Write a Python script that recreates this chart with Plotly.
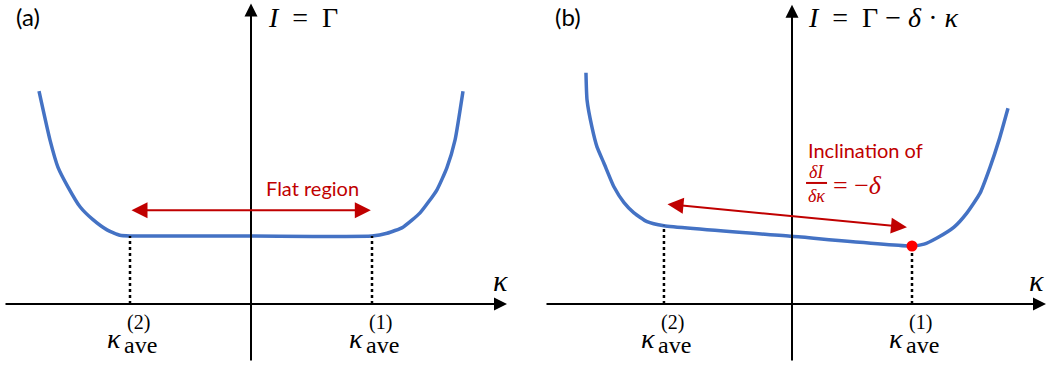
import plotly.graph_objects as go

# panel (a): I = Gamma, flat bottom between kappa_ave^(2) and kappa_ave^(1)
a_kappa = [-1.752, -1.661, -1.595, -1.512, -1.413, -1.306, -1.190, -1.083, -1.0, 0.0,
           1.0, 1.124, 1.256, 1.397, 1.537, 1.620, 1.686, 1.752]
a_I = [3.13, 2.41, 2.01, 1.72, 1.43, 1.24, 1.09, 1.01, 1.0, 1.0,
       1.0, 1.04, 1.13, 1.34, 1.68, 2.01, 2.41, 3.13]
a_kave = [-1.0, 1.0]           # kappa_ave^(2), kappa_ave^(1)
a_Ikave = [1.0, 1.0]

# panel (b): I = Gamma - delta*kappa, tilted bottom
b_kappa = [-1.717, -1.708, -1.667, -1.625, -1.567, -1.483, -1.400, -1.317, -1.208, -1.067, 0.0,
           1.0, 1.100, 1.208, 1.350, 1.458, 1.567, 1.650, 1.725, 1.800]
b_I = [3.40, 3.00, 2.60, 2.31, 2.07, 1.72, 1.49, 1.34, 1.21, 1.15, 0.995,
       0.853, 0.88, 0.97, 1.13, 1.34, 1.63, 2.01, 2.41, 2.88]
b_kave = [-1.067, 1.0]
b_Ikave = [1.15, 0.853]

# red double arrows (tail, head)
a_arrow_k = [-1.0, 0.99]
a_arrow_I = [1.38, 1.38]
b_arrow_k = [-1.05, 0.958]
b_arrow_I = [1.47, 1.13]

sup_labels = ["(2)", "(1)"]

BLUE = "#4472C4"
RED = "#C00000"
SERIF = "Liberation Serif"
SANS = "Lato"

W, H = 1047, 369
split = 520
yrange = [(304 - H) / 68, 304 / 68]

fig = go.Figure()

fig.add_trace(go.Scatter(x=a_kappa, y=a_I, mode="lines", line=dict(color=BLUE, width=3.5, shape="spline", smoothing=0.5),
                         xaxis="x", yaxis="y", showlegend=False))
fig.add_trace(go.Scatter(x=b_kappa, y=b_I, mode="lines", line=dict(color=BLUE, width=3.5, shape="spline", smoothing=0.5),
                         xaxis="x2", yaxis="y2", showlegend=False))

# dotted drop lines
for k, i in zip(a_kave, a_Ikave):
    fig.add_trace(go.Scatter(x=[k, k], y=[0, i], mode="lines", line=dict(color="black", width=2.5, dash="dot"),
                             xaxis="x", yaxis="y", showlegend=False))
for k, i in zip(b_kave, b_Ikave):
    fig.add_trace(go.Scatter(x=[k, k], y=[0, i], mode="lines", line=dict(color="black", width=2.5, dash="dot"),
                             xaxis="x2", yaxis="y2", showlegend=False))

fig.add_trace(go.Scatter(x=[b_kave[1]], y=[b_Ikave[1]], mode="markers", marker=dict(color="#FF0000", size=11),
                         xaxis="x2", yaxis="y2", showlegend=False))

ann = []


def arrow(xr, yr, x0, y0, x1, y1, color, width, size, both=False):
    ann.append(dict(xref=xr, yref=yr, axref=xr, ayref=yr, x=x1, y=y1, ax=x0, ay=y0, text="",
                    showarrow=True, arrowhead=2, arrowsize=size, arrowwidth=width, arrowcolor=color,
                    arrowside="end+start" if both else "end", standoff=0, startstandoff=0))


def txt(xr, yr, x, y, s, size, font=SANS, color="black", xanchor="left", xshift=0, yshift=0):
    ann.append(dict(xref=xr, yref=yr, x=x, y=y, text=s, showarrow=False, xanchor=xanchor, yanchor="middle",
                    xshift=xshift, yshift=yshift, font=dict(family=font, size=size, color=color)))


# axes arrows
arrow("x", "y", (4 - 251) / 121, 0, (507 - 251) / 121, 0, "black", 2, 1.3)
arrow("x", "y", 0, -0.853, 0, 4.42, "black", 2, 1.3)
arrow("x2", "y2", (545 - 792) / 120, 0, (1046 - 792) / 120, 0, "black", 2, 1.3)
arrow("x2", "y2", 0, -0.853, 0, 4.40, "black", 2, 1.3)

# red arrows
arrow("x", "y", a_arrow_k[0], a_arrow_I[0], a_arrow_k[1], a_arrow_I[1], RED, 2, 1.6, both=True)
arrow("x2", "y2", b_arrow_k[0], b_arrow_I[0], b_arrow_k[1], b_arrow_I[1], RED, 2, 1.6, both=True)

# panel labels and axis titles
txt("x", "y", -1.955, 4.25, "(a)", 24, yshift=-1)
txt("x2", "y2", -1.99, 4.25, "(b)", 24, yshift=-1)
txt("x", "y", 0.12, 4.21, "<i>I</i>  =  Γ", 28, font=SERIF)
txt("x2", "y2", 0.115, 4.21, "<i>I</i>  =  Γ − <i>δ</i> · <i>κ</i>", 28, font=SERIF)
txt("x", "y", 2.058, 0.35, "<i>κ</i>", 30, font=SERIF, xanchor="center")
txt("x2", "y2", 2.04, 0.35, "<i>κ</i>", 30, font=SERIF, xanchor="center")

# kappa_ave tick labels
for xr, yr, ks in (("x", "y", a_kave), ("x2", "y2", b_kave)):
    for k, sup in zip(ks, sup_labels):
        txt(xr, yr, k, 0, "<i>κ</i>", 28, font=SERIF, xanchor="right", xshift=-7, yshift=-34)
        txt(xr, yr, k, 0, "ave", 24, font=SERIF, xshift=-8, yshift=-41)
        txt(xr, yr, k, 0, sup, 20, font=SERIF, xshift=-5, yshift=-18)

txt("x", "y", 0.512, 1.706, "Flat region", 20, color=RED, xanchor="center")
txt("x2", "y2", 0.12, 2.26, "Inclination of", 20, color=RED)
txt("x2", "y2", 0.2, 1.94, "<i>δI</i>", 18, font=SERIF, color=RED, xanchor="center")
txt("x2", "y2", 0.2, 1.59, "<i>δκ</i>", 18, font=SERIF, color=RED, xanchor="center")
txt("x2", "y2", 0.325, 1.75, "= −<i>δ</i>", 26, font=SERIF, color=RED)

shapes = [dict(type="line", xref="x2", yref="y2", x0=0.117, x1=0.292, y0=1.78, y1=1.78,
               line=dict(color=RED, width=2))]

fig.update_layout(
    width=W, height=H,
    margin=dict(l=0, r=0, t=0, b=0),
    paper_bgcolor="white", plot_bgcolor="white",
    xaxis=dict(domain=[0, split / W], range=[-251 / 121, (split - 251) / 121], visible=False),
    yaxis=dict(domain=[0, 1], range=yrange, visible=False),
    xaxis2=dict(domain=[split / W, 1], range=[(split - 792) / 120, (W - 792) / 120], visible=False),
    yaxis2=dict(domain=[0, 1], range=yrange, visible=False, anchor="x2"),
    annotations=ann,
    shapes=shapes,
)

# drop the browser's default 8px body margin so the figure fills the window
fig.write_html("out.html", config={"displayModeBar": False},
               post_script="document.body.style.margin = '0';")
